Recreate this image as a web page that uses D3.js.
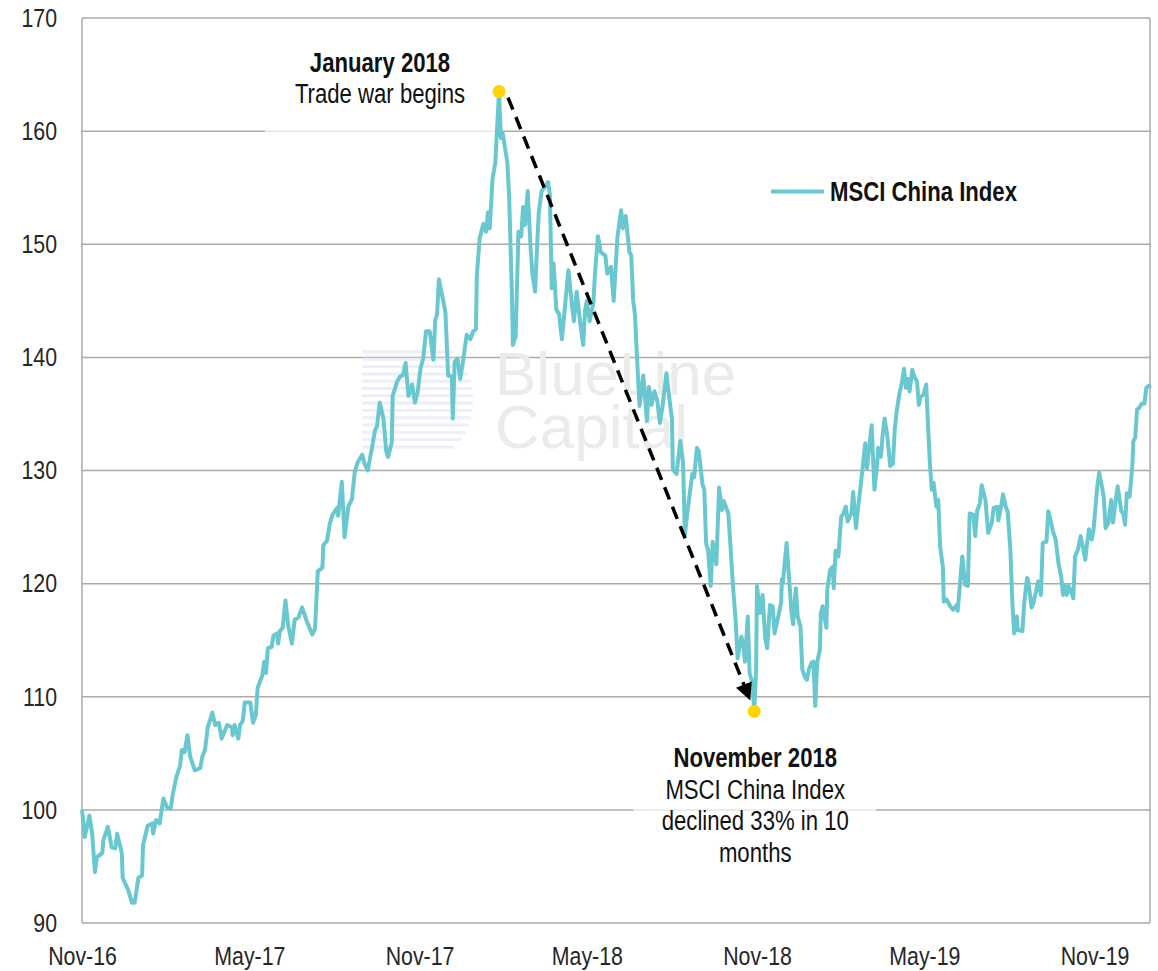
<!DOCTYPE html>
<html>
<head>
<meta charset="utf-8">
<style>
  body { margin: 0; background: #fff; }
  svg { display: block; font-family: "Liberation Sans", Arial, sans-serif; }
  .grid { stroke: #ababab; stroke-width: 1.5px; }
  .axis text { fill: #262626; font-size: 26px; font-family: "Liberation Sans", Arial, sans-serif; }
  .index-line { fill: none; stroke: #69c8cf; stroke-width: 4px; stroke-linejoin: round; }
  .note { font-size: 27px; fill: #111; text-anchor: middle; }
  .note.strong { font-weight: bold; }
  .legend { font-size: 27px; font-weight: bold; fill: #111; }
  .mark { font-size: 62px; fill: #ebebeb; }
</style>
</head>
<body>
<svg id="chart"></svg>
<script src="https://cdn.jsdelivr.net/npm/d3@7"></script>
<script>
// MSCI China Index, rebased to 100
var dates = [
  "2016-11-01","2016-11-04","2016-11-09","2016-11-12","2016-11-15","2016-11-17","2016-11-23","2016-11-24","2016-11-29",
  "2016-12-03","2016-12-07","2016-12-09","2016-12-14","2016-12-15","2016-12-21","2016-12-25","2016-12-28",
  "2017-01-01","2017-01-05","2017-01-06","2017-01-11","2017-01-16","2017-01-17","2017-01-20","2017-01-24","2017-01-28",
  "2017-02-01","2017-02-05","2017-02-07","2017-02-11","2017-02-15","2017-02-17","2017-02-20","2017-02-23","2017-02-26",
  "2017-03-03","2017-03-09","2017-03-11","2017-03-14","2017-03-17","2017-03-22","2017-03-25","2017-03-29",
  "2017-04-01","2017-04-07","2017-04-12","2017-04-13","2017-04-15","2017-04-19","2017-04-21","2017-04-24","2017-04-26",
  "2017-05-02","2017-05-05","2017-05-08","2017-05-10","2017-05-15","2017-05-17","2017-05-19","2017-05-21","2017-05-25","2017-05-27","2017-05-31",
  "2017-06-01","2017-06-03","2017-06-06","2017-06-09","2017-06-12","2017-06-16","2017-06-19","2017-06-23","2017-06-27",
  "2017-07-02","2017-07-08","2017-07-11","2017-07-14","2017-07-19","2017-07-20","2017-07-24","2017-07-27","2017-07-30",
  "2017-08-04","2017-08-05","2017-08-09","2017-08-12","2017-08-16","2017-08-20","2017-08-23","2017-08-26","2017-08-31",
  "2017-09-03","2017-09-06","2017-09-11","2017-09-14","2017-09-16","2017-09-19","2017-09-23","2017-09-26","2017-09-28",
  "2017-10-02","2017-10-03","2017-10-08","2017-10-11","2017-10-14","2017-10-17","2017-10-20","2017-10-24","2017-10-27","2017-10-30",
  "2017-11-02","2017-11-05","2017-11-08","2017-11-12","2017-11-16","2017-11-18","2017-11-20","2017-11-22","2017-11-25","2017-11-29",
  "2017-12-02","2017-12-06","2017-12-07","2017-12-09","2017-12-12","2017-12-15","2017-12-18","2017-12-22","2017-12-26","2017-12-29",
  "2018-01-01","2018-01-02","2018-01-05","2018-01-09","2018-01-12","2018-01-14","2018-01-16","2018-01-19","2018-01-22","2018-01-24","2018-01-26","2018-01-28","2018-01-30",
  "2018-02-04","2018-02-06","2018-02-09","2018-02-10","2018-02-13","2018-02-16","2018-02-19","2018-02-21","2018-02-23","2018-02-26",
  "2018-03-01","2018-03-03","2018-03-06","2018-03-08","2018-03-10","2018-03-13","2018-03-17","2018-03-20","2018-03-22","2018-03-24","2018-03-26","2018-03-29",
  "2018-04-01","2018-04-04","2018-04-07","2018-04-11","2018-04-15","2018-04-17","2018-04-20","2018-04-24","2018-04-27","2018-04-29",
  "2018-05-01","2018-05-04","2018-05-08","2018-05-10","2018-05-13","2018-05-16","2018-05-21","2018-05-23","2018-05-27","2018-05-30",
  "2018-06-03","2018-06-07","2018-06-09","2018-06-12","2018-06-16","2018-06-18","2018-06-20","2018-06-22","2018-06-24","2018-06-27",
  "2018-07-01","2018-07-05","2018-07-07","2018-07-10","2018-07-13","2018-07-16","2018-07-19","2018-07-22","2018-07-26","2018-07-29",
  "2018-08-01","2018-08-02","2018-08-06","2018-08-10","2018-08-13","2018-08-15","2018-08-18","2018-08-23","2018-08-25","2018-08-28","2018-08-30",
  "2018-09-03","2018-09-05","2018-09-07","2018-09-09","2018-09-12","2018-09-14","2018-09-18","2018-09-21","2018-09-24","2018-09-26",
  "2018-10-01","2018-10-03","2018-10-06","2018-10-09","2018-10-11","2018-10-15","2018-10-17","2018-10-19","2018-10-22","2018-10-24","2018-10-27","2018-10-29","2018-10-31",
  "2018-11-01","2018-11-04","2018-11-07","2018-11-10","2018-11-12","2018-11-15","2018-11-18","2018-11-20","2018-11-24","2018-11-27","2018-11-28","2018-11-29",
  "2018-12-03","2018-12-06","2018-12-08","2018-12-10","2018-12-13","2018-12-15","2018-12-18","2018-12-20","2018-12-23","2018-12-25","2018-12-27","2018-12-30",
  "2019-01-01","2019-01-03","2019-01-05","2019-01-08","2019-01-09","2019-01-11","2019-01-15","2019-01-16","2019-01-19","2019-01-22","2019-01-23","2019-01-25","2019-01-28","2019-01-31",
  "2019-02-02","2019-02-05","2019-02-07","2019-02-11","2019-02-13","2019-02-16","2019-02-18","2019-02-21","2019-02-24","2019-02-26","2019-02-28",
  "2019-03-02","2019-03-05","2019-03-08","2019-03-11","2019-03-12","2019-03-15","2019-03-17","2019-03-19","2019-03-22","2019-03-25","2019-03-28","2019-03-30",
  "2019-04-01","2019-04-04","2019-04-07","2019-04-09","2019-04-11","2019-04-13","2019-04-15","2019-04-18","2019-04-20","2019-04-23","2019-04-25","2019-04-27","2019-04-30",
  "2019-05-03","2019-05-05","2019-05-07","2019-05-09","2019-05-11","2019-05-14","2019-05-16","2019-05-18","2019-05-21","2019-05-22","2019-05-25","2019-05-29",
  "2019-06-01","2019-06-05","2019-06-06","2019-06-11","2019-06-14","2019-06-17","2019-06-19","2019-06-23","2019-06-25","2019-06-27","2019-06-30",
  "2019-07-02","2019-07-06","2019-07-09","2019-07-13","2019-07-15","2019-07-19","2019-07-20","2019-07-23","2019-07-25","2019-07-28","2019-07-30",
  "2019-08-02","2019-08-04","2019-08-06","2019-08-09","2019-08-10","2019-08-15","2019-08-17","2019-08-20","2019-08-21","2019-08-25","2019-08-27","2019-08-31",
  "2019-09-01","2019-09-04","2019-09-06","2019-09-10","2019-09-12","2019-09-15","2019-09-17","2019-09-20","2019-09-23","2019-09-26","2019-09-28","2019-09-30",
  "2019-10-02","2019-10-04","2019-10-08","2019-10-09","2019-10-11","2019-10-14","2019-10-17","2019-10-20","2019-10-22","2019-10-24","2019-10-26","2019-10-29","2019-10-31",
  "2019-11-04","2019-11-06","2019-11-09","2019-11-11","2019-11-13","2019-11-16","2019-11-19","2019-11-21","2019-11-24","2019-11-26","2019-11-30",
  "2019-12-02","2019-12-04","2019-12-06","2019-12-09","2019-12-12","2019-12-13","2019-12-15","2019-12-17","2019-12-19","2019-12-22","2019-12-25","2019-12-27","2019-12-30","2019-12-31"
];
var values = [
  100.0,97.6,99.5,97.9,94.5,95.8,96.2,97.3,98.5,
  96.7,96.6,97.9,96.2,94.0,92.9,91.8,91.8,
  94.0,94.2,96.9,98.6,98.8,97.9,99.1,98.8,101.0,
  100.2,100.1,101.3,102.9,103.9,105.3,105.1,106.6,104.7,
  103.5,103.7,104.7,105.3,107.3,108.6,107.5,107.7,
  106.3,107.5,107.3,106.6,107.5,106.3,107.5,107.9,109.5,
  109.5,107.7,108.4,110.8,111.9,113.1,112.1,114.3,114.4,115.4,115.6,
  114.7,115.8,116.1,118.5,116.3,114.7,116.8,117.0,117.9,
  116.7,115.5,116.0,121.1,121.4,123.4,123.8,125.3,126.1,
  126.7,126.0,129.0,124.1,126.8,127.5,129.9,130.7,131.4,
  130.5,130.0,132.2,133.6,133.9,136.0,134.6,131.7,131.2,
  132.5,136.6,137.9,138.3,138.4,139.5,136.6,137.6,136.0,136.9,
  139.0,139.9,142.3,142.3,139.8,143.3,143.8,146.9,145.7,144.0,
  138.4,138.3,134.6,139.6,139.9,138.1,139.6,142.0,141.6,142.3,
  142.5,147.2,150.5,151.8,151.1,152.8,151.4,155.8,157.2,160.4,163.5,159.4,159.8,
  157.2,154.1,145.4,141.1,141.9,151.1,150.7,153.3,151.7,154.7,
  149.9,147.4,145.8,149.6,152.8,154.7,155.1,155.5,154.4,146.1,148.3,144.2,
  143.8,141.6,144.2,147.7,144.5,143.2,145.8,142.9,141.1,144.2,
  145.0,143.2,144.8,147.7,150.7,149.3,149.0,147.4,148.0,145.0,
  150.6,153.0,151.4,152.5,149.3,149.0,145.1,143.8,140.3,135.7,
  138.4,134.4,137.4,135.8,137.0,136.2,134.2,135.8,138.6,136.5,
  134.6,130.1,129.7,132.6,130.7,124.3,126.5,129.7,129.4,132.0,131.7,
  128.8,128.3,123.5,123.0,119.8,123.7,121.7,128.5,126.5,127.3,
  126.2,123.7,119.8,116.6,113.4,115.3,114.7,113.1,117.1,112.1,111.2,108.7,112.4,
  119.8,117.4,119.0,115.1,114.3,118.1,118.0,115.6,117.1,118.3,120.4,120.1,
  123.6,120.1,117.7,116.4,119.6,117.1,116.2,112.4,111.7,111.5,112.4,113.0,
  113.1,109.2,113.0,114.2,117.4,118.0,116.1,119.5,121.2,121.5,119.6,122.9,122.4,125.9,
  126.1,126.8,125.5,126.2,128.1,124.9,126.5,128.6,130.8,132.4,130.2,
  131.8,134.0,128.3,130.6,132.0,131.2,133.3,134.6,133.0,130.4,130.6,133.7,
  135.2,136.8,137.9,139.0,137.3,138.1,137.0,138.9,138.3,137.9,135.8,136.5,136.7,
  137.6,133.9,130.6,128.3,128.9,126.8,127.4,123.3,121.5,118.4,118.6,118.0,
  117.7,118.1,117.6,122.4,119.9,119.8,126.2,126.1,124.2,126.4,127.1,
  128.7,127.4,124.5,125.4,126.7,126.8,125.6,126.8,127.9,126.8,126.4,
  123.0,118.6,115.6,117.1,115.9,115.8,118.3,120.5,120.4,117.9,118.3,119.8,
  120.2,119.0,123.6,123.7,126.4,125.4,124.6,123.9,121.8,120.6,119.0,119.8,
  119.0,119.8,119.0,118.7,122.4,123.0,124.2,123.0,122.1,123.6,124.8,123.9,124.8,
  128.6,129.8,128.6,127.6,124.9,125.4,127.4,125.4,127.4,128.6,126.4,
  126.2,125.2,128.0,127.7,130.5,132.6,132.9,135.4,135.5,135.9,135.9,137.3,137.5,137.3
];
var yTicks = [90, 100, 110, 120, 130, 140, 150, 160, 170];
var xTickDates = ["2016-11-01", "2017-05-01", "2017-11-01", "2018-05-01", "2018-11-01", "2019-05-01", "2019-11-01"];
var xTickLabels = ["Nov-16", "May-17", "Nov-17", "May-18", "Nov-18", "May-19", "Nov-19"];
var xDomain = ["2016-11-01", "2019-12-31"];
var seriesName = "MSCI China Index";
var peakNote = ["January 2018", "Trade war begins"];
var troughNote = ["November 2018", "MSCI China Index", "declined 33% in 10", "months"];
var watermark = ["BlueLine", "Capital"];

var width = 1158, height = 971;
var plotLeft = 82, plotRight = 1150, plotTop = 18, plotBottom = 923;
var parse = d3.timeParse("%Y-%m-%d");

if (dates.length !== values.length) console.error("dates/values mismatch", dates.length, values.length);
var data = dates.map(function(d, i) { return { date: parse(d), value: values[i] }; });

var svg = d3.select("#chart").attr("width", width).attr("height", height);

var x = d3.scaleTime().domain(xDomain.map(parse)).range([plotLeft, plotRight]);
var y = d3.scaleLinear().domain([90, 170]).range([plotBottom, plotTop]);

// squeeze regular glyphs into a narrow face (no condensed font available)
function narrow(sel) {
  sel.each(function() {
    var w = this.getComputedTextLength();
    d3.select(this).attr("textLength", w * 0.82).attr("lengthAdjust", "spacingAndGlyphs");
  });
}

// grid + frame
svg.append("g").selectAll("line").data(yTicks).join("line")
  .attr("class", "grid")
  .attr("x1", plotLeft).attr("x2", plotRight)
  .attr("y1", function(d) { return y(d); }).attr("y2", function(d) { return y(d); });
svg.append("line").attr("class", "grid").attr("x1", plotLeft).attr("x2", plotLeft).attr("y1", plotTop).attr("y2", plotBottom);
svg.append("line").attr("class", "grid").attr("x1", plotRight).attr("x2", plotRight).attr("y1", plotTop).attr("y2", plotBottom);

// watermark
var wm = svg.append("g");
for (var i = 0; i < 14; i++) {
  var yy = 352 + i * 7.3;
  var t = (yy - 400) / 52;
  wm.append("line")
    .attr("x1", 362).attr("x2", 440 + 33 * Math.sqrt(Math.max(0, 1 - t * t)))
    .attr("y1", yy).attr("y2", yy)
    .attr("stroke", "#eceef9").attr("stroke-width", 3);
}
wm.selectAll("text").data(watermark).join("text")
  .attr("class", "mark")
  .attr("x", 495)
  .attr("y", function(d, i) { return 395 + i * 53; })
  .text(function(d) { return d; });

// find annotated points
var peak = d3.greatest(data, function(d) { return d.value; });
var trough = d3.least(data.filter(function(d) { return d.date.getFullYear() === 2018; }), function(d) { return d.value; });
var px = x(peak.date), py = y(peak.value);
var tx = x(trough.date), ty = y(trough.value);

// soft white boxes behind the notes
svg.append("rect").attr("x", px - 234).attr("y", 40).attr("width", 230).attr("height", 98)
  .attr("fill", "#fff").attr("opacity", 0.7);
svg.append("rect").attr("x", tx - 121).attr("y", ty + 24).attr("width", 243).attr("height", 132)
  .attr("fill", "#fff").attr("opacity", 0.7);

// axes
var yAxis = d3.axisLeft(y).tickValues(yTicks).tickSize(0).tickPadding(25);
svg.append("g").attr("class", "axis").attr("transform", "translate(" + plotLeft + ",0)").call(yAxis)
  .call(function(g) { g.select(".domain").remove(); g.selectAll("text").call(narrow); });

var xAxis = d3.axisBottom(x).tickValues(xTickDates.map(parse)).tickSize(0).tickPadding(24)
  .tickFormat(function(d, i) { return xTickLabels[i]; });
svg.append("g").attr("class", "axis").attr("transform", "translate(0," + plotBottom + ")").call(xAxis)
  .call(function(g) { g.select(".domain").remove(); g.selectAll("text").call(narrow); });

// the index line
var line = d3.line()
  .x(function(d) { return x(d.date); })
  .y(function(d) { return y(d.value); });
svg.append("path").datum(data).attr("class", "index-line").attr("d", line);

// dashed arrow from peak to trough
svg.append("defs").append("marker")
  .attr("id", "head").attr("viewBox", "0 0 10 10").attr("refX", 10).attr("refY", 5)
  .attr("markerWidth", 19).attr("markerHeight", 17).attr("markerUnits", "userSpaceOnUse")
  .attr("orient", "auto")
  .append("path").attr("d", "M0,0L10,5L0,10z").attr("fill", "#000");
svg.append("line")
  .attr("x1", px + 9).attr("y1", py + 6)
  .attr("x2", tx - 4).attr("y2", ty - 11)
  .attr("stroke", "#000").attr("stroke-width", 3.5)
  .attr("stroke-dasharray", "13,8")
  .attr("marker-end", "url(#head)");

// dots
svg.selectAll(".dot").data([peak, trough]).join("circle")
  .attr("class", "dot")
  .attr("cx", function(d) { return x(d.date); })
  .attr("cy", function(d) { return y(d.value); })
  .attr("r", 6.5).attr("fill", "#ffd400");

// notes
svg.selectAll(".peak-note").data(peakNote).join("text")
  .attr("class", function(d, i) { return i === 0 ? "note strong" : "note"; })
  .attr("x", px - 119)
  .attr("y", function(d, i) { return py - 20 + i * 31; })
  .text(function(d) { return d; })
  .call(narrow);
svg.selectAll(".trough-note").data(troughNote).join("text")
  .attr("class", function(d, i) { return i === 0 ? "note strong" : "note"; })
  .attr("x", tx + 1)
  .attr("y", function(d, i) { return ty + 56 + i * 31.5; })
  .text(function(d) { return d; })
  .call(narrow);

// legend
svg.append("line").attr("x1", 771).attr("x2", 824).attr("y1", 191.5).attr("y2", 191.5)
  .attr("stroke", "#69c8cf").attr("stroke-width", 4);
svg.append("text").attr("class", "legend").attr("x", 830).attr("y", 201).text(seriesName).call(narrow);
</script>
</body>
</html>
